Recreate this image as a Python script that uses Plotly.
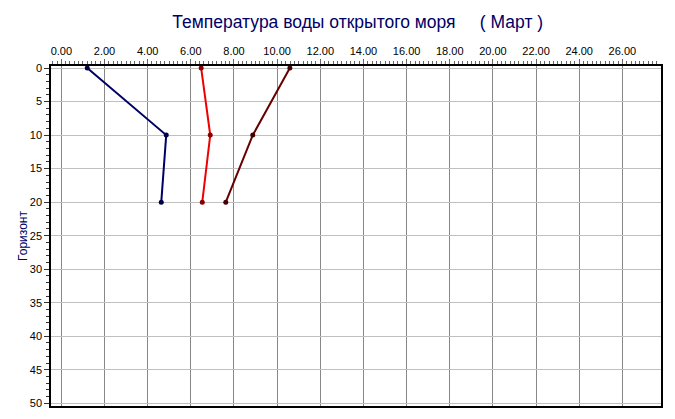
import plotly.graph_objects as go

depths = [0, 10, 20]
series_a = [1.20, 4.86, 4.63]
series_b = [6.48, 6.90, 6.53]
series_c = [10.59, 8.87, 7.62]

title_text = "Температура воды открытого моря     ( Март )"
y_title = "Горизонт"

colors = ["#000066", "#ee0000", "#660000"]
marker_colors = ["#000044", "#880000", "#440000"]

fig = go.Figure()
for vals, col, mcol in zip([series_a, series_b, series_c], colors, marker_colors):
    fig.add_trace(go.Scatter(
        x=vals, y=depths, mode="lines+markers",
        line=dict(color=col, width=2),
        marker=dict(color=mcol, size=5),
        showlegend=False, cliponaxis=False,
    ))

fig.update_layout(
    width=675, height=419,
    margin=dict(l=51, r=14, t=66, b=13),
    paper_bgcolor="white", plot_bgcolor="white",
    font=dict(family="Liberation Sans, Arial, sans-serif", size=11, color="black"),
    title=dict(text=title_text, x=0.53, xanchor="center", y=0.947, yanchor="middle",
               font=dict(size=17.5, color="#000066")),
)
fig.update_xaxes(
    side="top", range=[-0.48, 27.79], dtick=2, tick0=0, tickformat=".2f",
    showgrid=True, gridcolor="#888888", gridwidth=1,
    showline=True, linecolor="black", linewidth=1.5, mirror=True,
    ticks="outside", ticklen=5, tickcolor="#666666",
    minor=dict(dtick=0.2, ticks="outside", ticklen=3, tickcolor="#666666", showgrid=False),
    zeroline=False, tickfont=dict(size=11), automargin=False,
)
fig.update_yaxes(
    range=[50.4, -0.3], dtick=5, tick0=0,
    showgrid=True, gridcolor="#c0c0c0", gridwidth=1,
    showline=True, linecolor="black", linewidth=1.5, mirror=True,
    ticks="outside", ticklen=5, tickcolor="#333333",
    minor=dict(dtick=1, ticks="outside", ticklen=3, tickcolor="#333333", showgrid=False),
    zeroline=False, tickfont=dict(size=11), automargin=False,
    title=dict(text=y_title, font=dict(size=12, color="#000066"), standoff=0),
)

fig.write_html(
    "out.html",
    config={"displayModeBar": False},
    post_script="document.body.style.margin='0';document.body.style.overflow='hidden';",
)
